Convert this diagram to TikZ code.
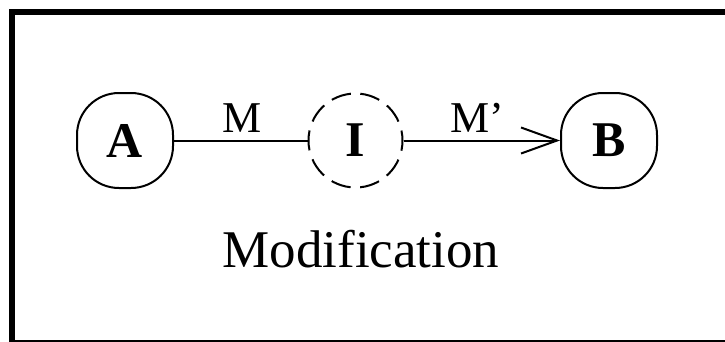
\documentclass[tikz,border=0pt]{standalone}
\usepackage{fontspec}
\setmainfont{Liberation Serif}
\usetikzlibrary{arrows.meta}
\begin{document}
\begin{tikzpicture}[x=1pt,y=-1pt,
  statebox/.style={draw, line width=2pt, rounded corners=42pt, minimum width=96pt, minimum height=95pt, inner sep=0pt, font=\fontsize{50}{55}\selectfont\bfseries},
  interbox/.style={draw, line width=2pt, circle, dash pattern=on 20pt off 9.5pt, dash phase=10pt, minimum size=94pt, inner sep=0pt, font=\fontsize{50}{55}\selectfont\bfseries},
  lbl/.style={font=\fontsize{44}{50}\selectfont, inner sep=0pt},
  conn/.style={line width=2pt}]
\useasboundingbox (0,0) rectangle (725,341);
\draw[line width=6pt] (12,342) -- (12,12) -- (740,12);
\draw[line width=6pt] (12,342.5) -- (740,342.5);
\node[statebox] (A) at (125,140.5) {A};
\node[interbox] (I) at (355.5,140.5) {I};
\node[statebox] (B) at (609,140.5) {B};
\draw[conn] (A.east) -- (I.west);
\draw[conn, -{Straight Barb[length=36pt,width=26pt,line width=2pt]}] (I.east) -- (B.west);
\node[lbl] (m) at (242,118) {M};
\node[lbl] (mp) at (477,118) {M’};
\node[font=\fontsize{53}{60}\selectfont, anchor=base, inner sep=0pt] (t) at (361,267) {Modification};
\end{tikzpicture}
\end{document}
